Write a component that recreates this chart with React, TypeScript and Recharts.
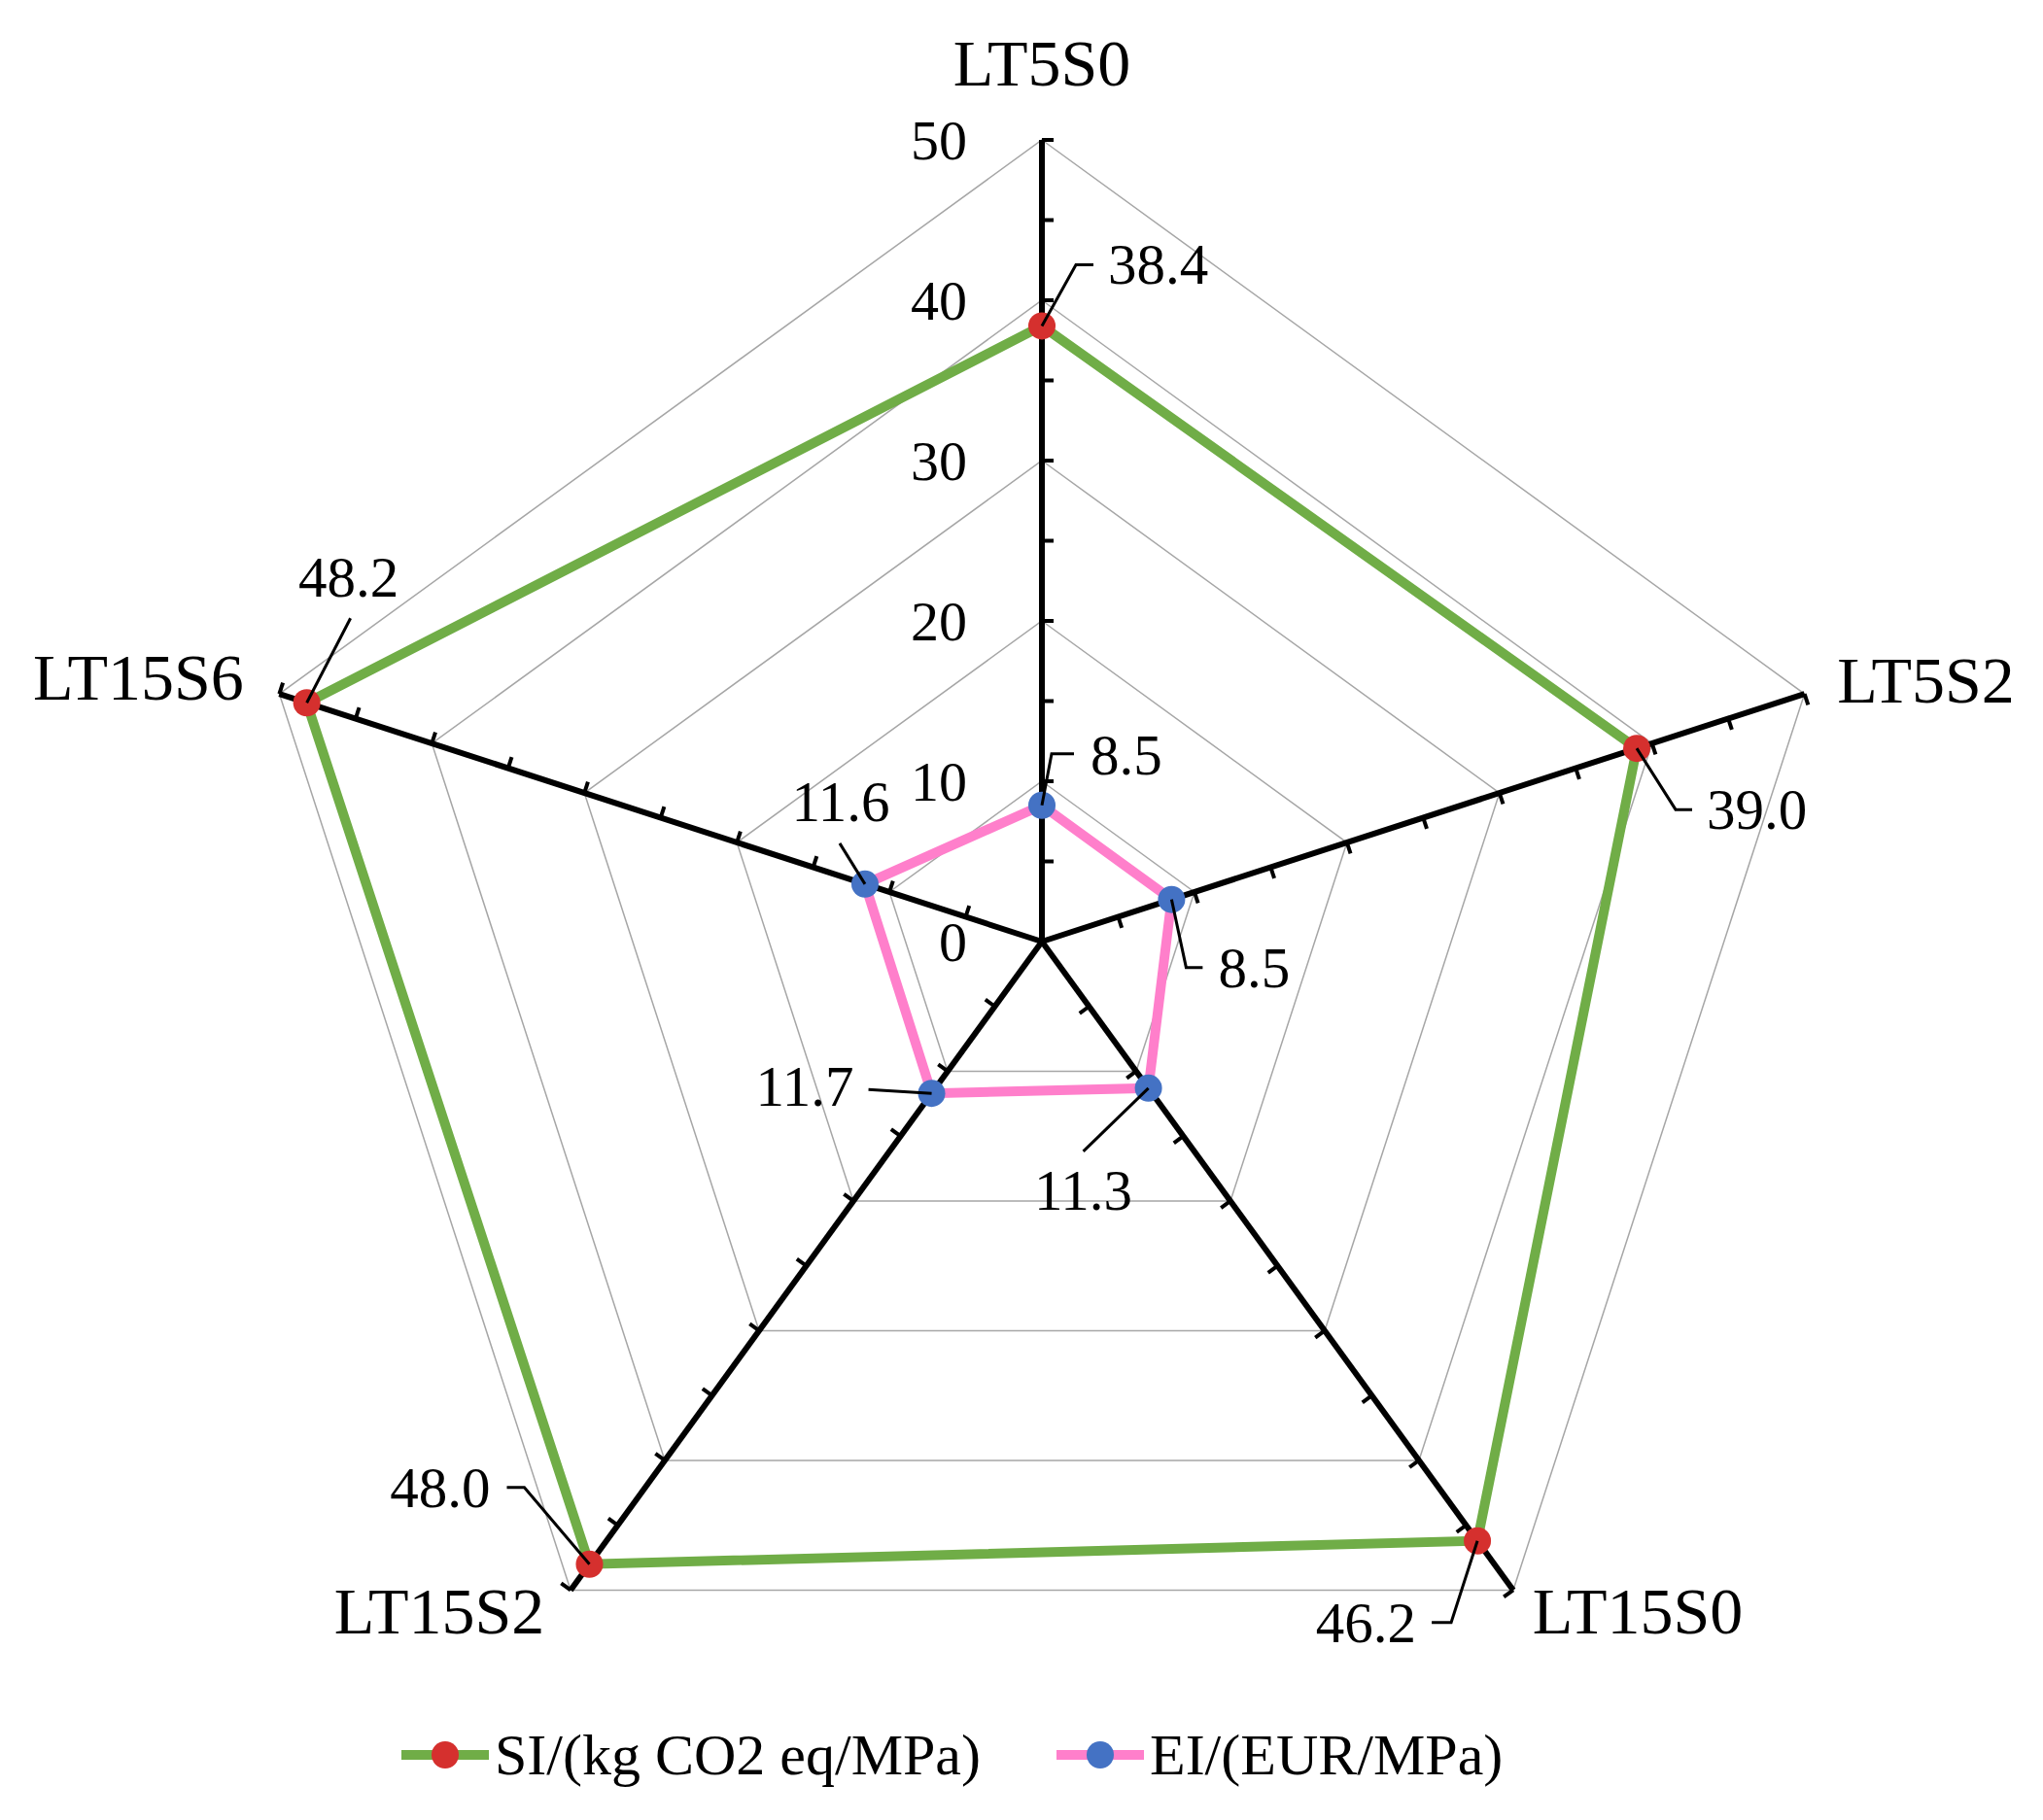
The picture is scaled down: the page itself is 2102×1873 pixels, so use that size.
import React from 'react';
import { RadarChart, Radar, PolarGrid, PolarAngleAxis, PolarRadiusAxis, Legend } from 'recharts';

// ---------- data ----------
const categories = ['LT5S0', 'LT5S2', 'LT15S0', 'LT15S2', 'LT15S6'];
const siValues = [38.4, 39.0, 46.2, 48.0, 48.2];
const eiValues = [8.5, 8.5, 11.3, 11.7, 11.6];
const seriesNames = ['SI/(kg CO2 eq/MPa)', 'EI/(EUR/MPa)'];
const radiusDomain = [0, 50];

const data = categories.map((name, i) => ({ name, si: siValues[i], ei: eiValues[i] }));

// ---------- styles ----------
const FONT = '"Liberation Serif", "Times New Roman", Times, serif';
const GREEN = '#70AD47';
const RED = '#D5302E';
const PINK = '#FF7FCB';
const BLUE = '#4472C4';
const GRID = '#A6A6A6';
const TICK_LEN = 12;

type LabelLayout = { path: number[][]; text: [number, number, 'start' | 'middle' | 'end'] };

const siLabelLayout: LabelLayout[] = [
  { path: [[35, -63], [53, -63]], text: [68, -63, 'start'] },
  { path: [[40, 63], [57, 63]], text: [72, 63, 'start'] },
  { path: [[-27, 84], [-47, 84]], text: [-63, 84, 'end'] },
  { path: [[-67, -79], [-85, -79]], text: [-102, -79, 'end'] },
  { path: [[45, -87]], text: [43, -129, 'middle'] },
];
const eiLabelLayout: LabelLayout[] = [
  { path: [[10, -53], [33, -53]], text: [50, -52, 'start'] },
  { path: [[15, 70], [32, 70]], text: [48, 70, 'start'] },
  { path: [[-67, 65]], text: [-67, 105, 'middle'] },
  { path: [[-65, -4]], text: [-80, -7, 'end'] },
  { path: [[-26, -42]], text: [-25, -85, 'middle'] },
];

const angleLabelLayout: { dx: number; dy: number; anchor: 'start' | 'middle' | 'end' }[] = [
  { dx: 0, dy: -48, anchor: 'middle' },
  { dx: 26, dy: 11.5, anchor: 'start' },
  { dx: 15, dy: 38, anchor: 'start' },
  { dx: -22, dy: 38, anchor: 'end' },
  { dx: -29, dy: 8.5, anchor: 'end' },
];

const axisAngles = categories.map((_, i) => 90 - (i * 360) / categories.length);

const makeRadiusTick = (angle: number, showLabels: boolean) => (props: any) => {
  const { x, y, payload } = props;
  const rad = (angle * Math.PI) / 180;
  const px = Math.sin(rad);
  const py = Math.cos(rad);
  const v = payload.value;
  return (
    <g>
      {v > 0 && (
        <line x1={x} y1={y} x2={x + px * TICK_LEN} y2={y + py * TICK_LEN} stroke="#000" strokeWidth={4} />
      )}
      {showLabels && v % 10 === 0 && (
        <text
          x={x - 77}
          y={y}
          textAnchor="end"
          dominantBaseline="central"
          fontFamily={FONT}
          fontSize={58}
          fill="#000"
        >
          {v}
        </text>
      )}
    </g>
  );
};

const renderAngleTick = (props: any) => {
  const { x, y, payload, index } = props;
  const l = angleLabelLayout[index] || { dx: 0, dy: 0, anchor: 'middle' };
  return (
    <text x={x + l.dx} y={y + l.dy} textAnchor={l.anchor} fontFamily={FONT} fontSize={68} fill="#000">
      {payload.value}
    </text>
  );
};

const makeDot = (fill: string, layouts: LabelLayout[]) => (props: any) => {
  const { cx, cy, index } = props;
  const value = props.payload && typeof props.payload.value === 'number' ? props.payload.value : props.value;
  const L = layouts[index];
  const pts = [[0, 0], ...L.path].map(([dx, dy]) => `${cx + dx},${cy + dy}`).join(' ');
  return (
    <g key={`dot-${index}`}>
      <circle cx={cx} cy={cy} r={14} fill={fill} />
      <polyline points={pts} fill="none" stroke="#000" strokeWidth={3} />
      <text
        x={cx + L.text[0]}
        y={cy + L.text[1]}
        textAnchor={L.text[2]}
        dominantBaseline="central"
        fontFamily={FONT}
        fontSize={59}
        fill="#000"
      >
        {Number(value).toFixed(1)}
      </text>
    </g>
  );
};

const legendItems = [
  { name: seriesNames[0], line: GREEN, dot: RED },
  { name: seriesNames[1], line: PINK, dot: BLUE },
];

const renderLegend = () => (
  <div style={{ display: 'flex', alignItems: 'center', fontFamily: FONT, fontSize: 60, color: '#000', lineHeight: '80px' }}>
    {legendItems.map((it, i) => (
      <div key={i} style={{ display: 'flex', alignItems: 'center', marginRight: i === 0 ? 78 : 0 }}>
        <svg width={90} height={40}>
          <line x1={0} y1={20} x2={90} y2={20} stroke={it.line} strokeWidth={10} />
          <circle cx={45} cy={20} r={14} fill={it.dot} />
        </svg>
        <span style={{ marginLeft: 6, whiteSpace: 'nowrap' }}>{it.name}</span>
      </div>
    ))}
  </div>
);

export default function App() {
  return (
    <div style={{ background: '#fff', width: 2086, height: 1857 }}>
      <RadarChart
        width={2086}
        height={1857}
        data={data}
        cx={1064}
        cy={961}
        outerRadius={825}
        startAngle={90}
        endAngle={-270}
        margin={{ top: 0, right: 0, bottom: 0, left: 0 }}
      >
        <PolarRadiusAxis
          radiusAxisId="grid"
          angle={90}
          type="number"
          domain={radiusDomain}
          tickCount={6}
          allowDataOverflow
          axisLine={false}
          tick={false}
        />
        <PolarGrid radiusAxisId="grid" gridType="polygon" radialLines={false} stroke={GRID} strokeWidth={1.5} />
        <PolarAngleAxis dataKey="name" axisLine={false} tickLine={false} tick={renderAngleTick} />
        {axisAngles.map((a, i) => (
          <PolarRadiusAxis
            key={`ax-${i}`}
            radiusAxisId={`a${i}`}
            angle={a}
            type="number"
            domain={radiusDomain}
            tickCount={11}
            allowDataOverflow
            axisLine={{ stroke: '#000', strokeWidth: 6 }}
            tick={makeRadiusTick(a, i === 0)}
          />
        ))}
        <Radar
          name={seriesNames[0]}
          dataKey="si"
          radiusAxisId="a0"
          stroke={GREEN}
          strokeWidth={10}
          fill="none"
          fillOpacity={0}
          dot={makeDot(RED, siLabelLayout)}
          isAnimationActive={false}
        />
        <Radar
          name={seriesNames[1]}
          dataKey="ei"
          radiusAxisId="a0"
          stroke={PINK}
          strokeWidth={10}
          fill="none"
          fillOpacity={0}
          dot={makeDot(BLUE, eiLabelLayout)}
          isAnimationActive={false}
        />
        <Legend
          content={renderLegend}
          wrapperStyle={{ left: 405, top: 1758, bottom: 'auto', width: 1400, height: 80 }}
        />
      </RadarChart>
    </div>
  );
}
